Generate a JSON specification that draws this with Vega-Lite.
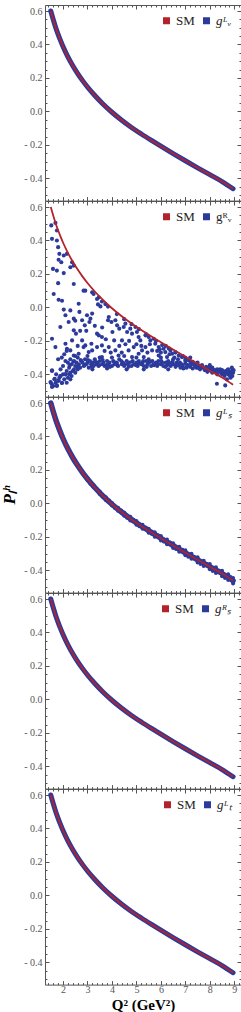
{
"$schema": "https://vega.github.io/schema/vega-lite/v6.json",
"padding": 0,
"spacing": 0,
"bounds": "flush",
"background": "white",
"datasets": {
"sm": [{"q2":1.5,"p":0.600},{"q2":1.6,"p":0.549},{"q2":1.7,"p":0.502},{"q2":1.8,"p":0.461},{"q2":1.9,"p":0.423},{"q2":2.0,"p":0.388},{"q2":2.2,"p":0.326},{"q2":2.4,"p":0.273},{"q2":2.6,"p":0.226},{"q2":2.8,"p":0.184},{"q2":3.0,"p":0.146},{"q2":3.3,"p":0.095},{"q2":3.6,"p":0.049},{"q2":4.0,"p":-0.005},{"q2":4.4,"p":-0.053},{"q2":4.8,"p":-0.096},{"q2":5.2,"p":-0.135},{"q2":5.6,"p":-0.172},{"q2":6.0,"p":-0.208},{"q2":6.5,"p":-0.252},{"q2":7.0,"p":-0.295},{"q2":7.5,"p":-0.337},{"q2":8.0,"p":-0.378},{"q2":8.5,"p":-0.419},{"q2":8.95,"p":-0.462}],
"p2": [{"q2":1.52,"p":0.49},{"q2":1.69,"p":0.505},{"q2":1.75,"p":0.46},{"q2":1.55,"p":0.41},{"q2":1.75,"p":0.40},{"q2":1.80,"p":0.36},{"q2":1.85,"p":0.32},{"q2":1.82,"p":0.285},{"q2":1.93,"p":0.27},{"q2":1.59,"p":0.23},{"q2":1.75,"p":0.22},{"q2":2.03,"p":0.205},{"q2":1.80,"p":0.145},{"q2":1.62,"p":0.08},{"q2":1.82,"p":0.046},{"q2":1.96,"p":0.04},{"q2":2.03,"p":-0.013},{"q2":2.10,"p":-0.047},{"q2":1.89,"p":-0.117},{"q2":1.55,"p":-0.187},{"q2":1.69,"p":-0.237},{"q2":1.55,"p":-0.376},{"q2":1.66,"p":-0.426},{"q2":1.49,"p":-0.446},{"q2":1.75,"p":-0.466},{"q2":1.55,"p":-0.476},{"q2":1.82,"p":-0.436},{"q2":1.96,"p":-0.452},{"q2":1.89,"p":-0.41},{"q2":2.10,"p":-0.40},
{"q2":2.03,"p":0.31},{"q2":2.16,"p":0.32},{"q2":2.30,"p":0.24},{"q2":2.44,"p":0.25},{"q2":2.37,"p":0.27},{"q2":2.44,"p":0.14},{"q2":2.91,"p":0.10},{"q2":2.84,"p":0.10},{"q2":3.19,"p":0.09},{"q2":3.25,"p":0.08},{"q2":3.46,"p":0.06},{"q2":3.39,"p":0.05},{"q2":3.53,"p":0.006},{"q2":3.43,"p":0.018},{"q2":3.59,"p":0.035},{"q2":3.73,"p":0.02},{"q2":3.84,"p":0.005},
{"q2":2.30,"p":-0.018},{"q2":2.44,"p":-0.067},{"q2":2.23,"p":-0.087},{"q2":2.64,"p":0.022},{"q2":2.67,"p":-0.027},{"q2":2.78,"p":-0.077},{"q2":2.98,"p":-0.047},{"q2":3.12,"p":-0.067},{"q2":3.19,"p":-0.037},{"q2":3.08,"p":-0.087},{"q2":2.89,"p":-0.107},{"q2":2.44,"p":-0.137},{"q2":2.53,"p":-0.157},{"q2":2.37,"p":-0.197},{"q2":2.10,"p":-0.217},{"q2":2.16,"p":-0.247},{"q2":2.78,"p":-0.197},{"q2":2.91,"p":-0.227},{"q2":3.16,"p":-0.217},{"q2":3.39,"p":-0.157},{"q2":3.46,"p":-0.167},{"q2":3.59,"p":-0.177},{"q2":3.84,"p":-0.077},{"q2":3.87,"p":-0.057},{"q2":3.98,"p":-0.087},{"q2":4.14,"p":-0.077},{"q2":4.21,"p":-0.107},{"q2":4.30,"p":-0.127},{"q2":4.02,"p":-0.147},{"q2":4.09,"p":-0.197},{"q2":3.59,"p":-0.227},{"q2":3.87,"p":-0.237},{"q2":4.14,"p":-0.257},{"q2":4.41,"p":-0.197},{"q2":4.48,"p":-0.117},{"q2":4.55,"p":-0.097},{"q2":4.62,"p":-0.147},{"q2":4.75,"p":-0.127},{"q2":4.82,"p":-0.157},{"q2":4.96,"p":-0.117},{"q2":5.02,"p":-0.147},{"q2":5.09,"p":-0.177},{"q2":5.16,"p":-0.197},{"q2":5.37,"p":-0.167},{"q2":5.50,"p":-0.177},{"q2":5.57,"p":-0.197},{"q2":5.71,"p":-0.187},{"q2":5.77,"p":-0.217},{"q2":5.91,"p":-0.237},{"q2":6.05,"p":-0.225},{"q2":6.11,"p":-0.247},{"q2":6.18,"p":-0.267},{"q2":6.32,"p":-0.245},{"q2":6.39,"p":-0.257},{"q2":6.46,"p":-0.277},{"q2":6.59,"p":-0.267},{"q2":6.73,"p":-0.287},{"q2":6.86,"p":-0.297},{"q2":7.00,"p":-0.313},{"q2":7.14,"p":-0.317},{"q2":5.23,"p":-0.257},{"q2":5.37,"p":-0.237},{"q2":5.64,"p":-0.257},{"q2":4.89,"p":-0.237},{"q2":4.68,"p":-0.257},{"q2":5.09,"p":-0.277},{"q2":5.91,"p":-0.287},{"q2":6.25,"p":-0.297},{"q2":5.30,"p":-0.297},{"q2":4.82,"p":-0.297},{"q2":4.27,"p":-0.287},{"q2":3.59,"p":-0.297},{"q2":3.05,"p":-0.267},{"q2":2.64,"p":-0.277},{"q2":2.44,"p":-0.287},{"q2":2.30,"p":-0.257},{"q2":2.84,"p":-0.237},{"q2":3.19,"p":-0.257},{"q2":3.39,"p":-0.237},
{"q2":4.4,"p":-0.27},{"q2":4.55,"p":-0.22},{"q2":4.7,"p":-0.20},{"q2":5.0,"p":-0.22},{"q2":5.2,"p":-0.23},{"q2":5.45,"p":-0.27},{"q2":5.55,"p":-0.22},{"q2":5.85,"p":-0.26},{"q2":6.0,"p":-0.27},{"q2":6.35,"p":-0.28},{"q2":6.55,"p":-0.30},{"q2":6.7,"p":-0.31},{"q2":7.2,"p":-0.30},{"q2":5.95,"p":-0.25},{"q2":3.7,"p":-0.26},{"q2":3.95,"p":-0.27},{"q2":4.3,"p":-0.23},{"q2":2.95,"p":-0.14},{"q2":3.3,"p":-0.11},{"q2":3.6,"p":-0.12},{"q2":3.75,"p":-0.19},{"q2":2.6,"p":-0.23},{"q2":2.5,"p":-0.08},{"q2":2.7,"p":-0.14},
{"q2":4.2,"p":-0.04},{"q2":4.5,"p":-0.07},{"q2":4.8,"p":-0.10},{"q2":5.1,"p":-0.13},{"q2":5.4,"p":-0.16},{"q2":5.8,"p":-0.20},{"q2":6.2,"p":-0.23},{"q2":6.6,"p":-0.27},{"q2":7.0,"p":-0.30},{"q2":7.3,"p":-0.325},{"q2":7.6,"p":-0.35},{"q2":6.9,"p":-0.29},{"q2":7.4,"p":-0.335},
{"q2":2.2,"p":-0.33},{"q2":2.25,"p":-0.36},{"q2":2.3,"p":-0.31},{"q2":2.35,"p":-0.34},{"q2":2.4,"p":-0.38},{"q2":2.45,"p":-0.32},{"q2":2.5,"p":-0.35},{"q2":2.55,"p":-0.33},{"q2":2.6,"p":-0.30},{"q2":2.65,"p":-0.34},{"q2":2.7,"p":-0.36},{"q2":2.75,"p":-0.32},{"q2":2.8,"p":-0.33},{"q2":2.85,"p":-0.35},{"q2":2.9,"p":-0.31},{"q2":2.95,"p":-0.34},{"q2":3.0,"p":-0.33},{"q2":3.05,"p":-0.36},{"q2":3.1,"p":-0.32},{"q2":3.15,"p":-0.34},{"q2":3.2,"p":-0.33},{"q2":3.25,"p":-0.35},{"q2":3.3,"p":-0.31},{"q2":3.35,"p":-0.34},{"q2":3.4,"p":-0.33},{"q2":3.45,"p":-0.35},{"q2":3.5,"p":-0.32},{"q2":3.6,"p":-0.34},{"q2":3.65,"p":-0.33},{"q2":3.7,"p":-0.35},{"q2":3.8,"p":-0.32},{"q2":3.85,"p":-0.34},{"q2":3.9,"p":-0.33},{"q2":4.0,"p":-0.35},{"q2":4.05,"p":-0.32},{"q2":4.1,"p":-0.34},{"q2":4.2,"p":-0.33},{"q2":4.25,"p":-0.35},{"q2":4.3,"p":-0.31},{"q2":4.4,"p":-0.34},{"q2":4.45,"p":-0.33},{"q2":4.5,"p":-0.35},{"q2":4.6,"p":-0.32},{"q2":4.65,"p":-0.34},{"q2":4.7,"p":-0.33},{"q2":4.8,"p":-0.35},{"q2":4.85,"p":-0.32},{"q2":4.9,"p":-0.34},{"q2":5.0,"p":-0.33},{"q2":5.05,"p":-0.35},{"q2":5.1,"p":-0.32},{"q2":5.2,"p":-0.34},{"q2":5.25,"p":-0.33},{"q2":5.3,"p":-0.35},{"q2":5.4,"p":-0.32},{"q2":5.45,"p":-0.34},{"q2":5.5,"p":-0.33},{"q2":5.6,"p":-0.35},{"q2":5.65,"p":-0.32},{"q2":5.7,"p":-0.34},{"q2":5.8,"p":-0.33},{"q2":5.85,"p":-0.35},{"q2":5.9,"p":-0.32},{"q2":6.0,"p":-0.34},{"q2":6.05,"p":-0.33},{"q2":6.1,"p":-0.35},{"q2":6.2,"p":-0.33},{"q2":6.25,"p":-0.345},{"q2":6.3,"p":-0.32},{"q2":6.4,"p":-0.35},{"q2":6.45,"p":-0.33},{"q2":6.5,"p":-0.34},{"q2":6.6,"p":-0.355},{"q2":6.65,"p":-0.33},{"q2":6.7,"p":-0.345},{"q2":6.8,"p":-0.36},{"q2":6.85,"p":-0.34},{"q2":6.9,"p":-0.35},{"q2":7.0,"p":-0.335},{"q2":7.05,"p":-0.36},{"q2":7.1,"p":-0.345},{"q2":7.2,"p":-0.355},{"q2":7.25,"p":-0.34},{"q2":7.3,"p":-0.365},{"q2":7.4,"p":-0.35},{"q2":7.45,"p":-0.36},{"q2":7.5,"p":-0.345},{"q2":7.6,"p":-0.37},{"q2":7.65,"p":-0.355},{"q2":7.7,"p":-0.36},{"q2":7.8,"p":-0.375},{"q2":7.85,"p":-0.355},{"q2":7.9,"p":-0.365},{"q2":8.0,"p":-0.37},{"q2":8.05,"p":-0.38},{"q2":8.1,"p":-0.36},{"q2":8.2,"p":-0.375},{"q2":8.25,"p":-0.385},{"q2":8.3,"p":-0.37},{"q2":8.4,"p":-0.38},{"q2":8.45,"p":-0.39},{"q2":8.5,"p":-0.375},{"q2":8.55,"p":-0.385},{"q2":8.6,"p":-0.395},{"q2":8.65,"p":-0.38},{"q2":8.7,"p":-0.39},{"q2":8.75,"p":-0.40},{"q2":8.8,"p":-0.385},{"q2":8.85,"p":-0.395},{"q2":8.9,"p":-0.38},{"q2":8.95,"p":-0.39},{"q2":8.92,"p":-0.41},{"q2":8.85,"p":-0.42},{"q2":8.7,"p":-0.43},{"q2":8.6,"p":-0.41},{"q2":8.5,"p":-0.40},{"q2":8.75,"p":-0.37},{"q2":8.9,"p":-0.36},{"q2":8.3,"p":-0.40},{"q2":8.1,"p":-0.39},{"q2":7.9,"p":-0.385},{"q2":8.29,"p":-0.456},{"q2":8.63,"p":-0.466},
{"q2":2.28,"p":-0.345},{"q2":2.42,"p":-0.325},{"q2":2.58,"p":-0.355},{"q2":2.72,"p":-0.315},{"q2":2.88,"p":-0.345},{"q2":3.02,"p":-0.315},{"q2":3.18,"p":-0.355},{"q2":3.32,"p":-0.325},{"q2":3.48,"p":-0.345},{"q2":3.62,"p":-0.315},{"q2":3.78,"p":-0.345},{"q2":3.92,"p":-0.355},{"q2":4.08,"p":-0.325},{"q2":4.22,"p":-0.345},{"q2":4.38,"p":-0.32},{"q2":4.52,"p":-0.34},{"q2":4.68,"p":-0.355},{"q2":4.82,"p":-0.325},{"q2":4.98,"p":-0.345},{"q2":5.12,"p":-0.335},{"q2":5.28,"p":-0.32},{"q2":5.42,"p":-0.355},{"q2":5.58,"p":-0.325},{"q2":5.72,"p":-0.345},{"q2":5.88,"p":-0.34},{"q2":6.02,"p":-0.32},{"q2":6.18,"p":-0.355},{"q2":6.32,"p":-0.335},{"q2":6.48,"p":-0.325},{"q2":6.62,"p":-0.34},{"q2":6.78,"p":-0.33},{"q2":6.92,"p":-0.365},{"q2":7.08,"p":-0.35},{"q2":7.22,"p":-0.33},{"q2":7.38,"p":-0.345},{"q2":7.52,"p":-0.36},{"q2":7.68,"p":-0.345},{"q2":7.82,"p":-0.365},{"q2":7.98,"p":-0.36},{"q2":8.12,"p":-0.37},{"q2":8.28,"p":-0.39},{"q2":8.42,"p":-0.37},{"q2":8.58,"p":-0.385},{"q2":8.72,"p":-0.375},{"q2":8.88,"p":-0.405},{"q2":8.97,"p":-0.375},{"q2":8.82,"p":-0.41},{"q2":8.68,"p":-0.395},
{"q2":2.5,"p":-0.29},{"q2":3.0,"p":-0.29},{"q2":3.5,"p":-0.30},{"q2":4.0,"p":-0.30},{"q2":4.5,"p":-0.29},{"q2":5.0,"p":-0.30},{"q2":5.5,"p":-0.31},{"q2":6.0,"p":-0.30},{"q2":6.5,"p":-0.31},{"q2":7.0,"p":-0.32},{"q2":7.5,"p":-0.33},{"q2":8.0,"p":-0.345},
{"q2":2.3,"p":-0.39},{"q2":2.6,"p":-0.37},{"q2":3.2,"p":-0.37},{"q2":3.8,"p":-0.365},{"q2":4.6,"p":-0.37},{"q2":5.3,"p":-0.37},{"q2":6.3,"p":-0.37},
{"q2":1.5,"p":-0.45},{"q2":1.55,"p":-0.38},{"q2":1.6,"p":-0.47},{"q2":1.65,"p":-0.43},{"q2":1.7,"p":-0.45},{"q2":1.75,"p":-0.47},{"q2":1.8,"p":-0.44},{"q2":1.85,"p":-0.42},{"q2":1.9,"p":-0.41},{"q2":1.95,"p":-0.45},{"q2":2.0,"p":-0.40},{"q2":2.05,"p":-0.43},{"q2":2.1,"p":-0.40},{"q2":2.15,"p":-0.38},{"q2":2.2,"p":-0.42},{"q2":2.35,"p":-0.41},{"q2":2.5,"p":-0.39},{"q2":1.55,"p":-0.46},{"q2":1.72,"p":-0.40},{"q2":1.9,"p":-0.37},{"q2":2.0,"p":-0.35},{"q2":2.1,"p":-0.32},{"q2":1.8,"p":-0.31},{"q2":1.95,"p":-0.30},{"q2":2.05,"p":-0.28},{"q2":2.15,"p":-0.26},{"q2":2.25,"p":-0.40},{"q2":2.45,"p":-0.37},{"q2":2.3,"p":-0.43},{"q2":2.15,"p":-0.45}],
"p3": [{"q2":3.0,"p":0.152},{"q2":3.0,"p":0.140},{"q2":3.12,"p":0.118},{"q2":3.25,"p":0.108},{"q2":3.25,"p":0.096},{"q2":3.38,"p":0.085},{"q2":3.5,"p":0.071},{"q2":3.5,"p":0.057},{"q2":3.62,"p":0.040},{"q2":3.75,"p":0.037},{"q2":3.75,"p":0.021},{"q2":3.88,"p":0.018},{"q2":4.0,"p":0.003},{"q2":4.0,"p":-0.013},{"q2":4.12,"p":-0.028},{"q2":4.25,"p":-0.026},{"q2":4.25,"p":-0.044},{"q2":4.38,"p":-0.042},{"q2":4.5,"p":-0.054},{"q2":4.5,"p":-0.074},{"q2":4.62,"p":-0.085},{"q2":4.75,"p":-0.080},{"q2":4.75,"p":-0.102},{"q2":4.88,"p":-0.097},{"q2":5.0,"p":-0.105},{"q2":5.0,"p":-0.127},{"q2":5.12,"p":-0.136},{"q2":5.25,"p":-0.128},{"q2":5.25,"p":-0.152},{"q2":5.38,"p":-0.144},{"q2":5.5,"p":-0.151},{"q2":5.5,"p":-0.175},{"q2":5.62,"p":-0.182},{"q2":5.75,"p":-0.173},{"q2":5.75,"p":-0.199},{"q2":5.88,"p":-0.190},{"q2":6.0,"p":-0.195},{"q2":6.0,"p":-0.221},{"q2":6.12,"p":-0.228},{"q2":6.25,"p":-0.216},{"q2":6.25,"p":-0.244},{"q2":6.38,"p":-0.234},{"q2":6.5,"p":-0.238},{"q2":6.5,"p":-0.266},{"q2":6.62,"p":-0.273},{"q2":6.75,"p":-0.259},{"q2":6.75,"p":-0.289},{"q2":6.88,"p":-0.277},{"q2":7.0,"p":-0.280},{"q2":7.0,"p":-0.310},{"q2":7.12,"p":-0.319},{"q2":7.25,"p":-0.301},{"q2":7.25,"p":-0.331},{"q2":7.38,"p":-0.322},{"q2":7.5,"p":-0.321},{"q2":7.5,"p":-0.353},{"q2":7.62,"p":-0.362},{"q2":7.75,"p":-0.342},{"q2":7.75,"p":-0.374},{"q2":7.88,"p":-0.362},{"q2":8.0,"p":-0.362},{"q2":8.0,"p":-0.394},{"q2":8.12,"p":-0.404},{"q2":8.25,"p":-0.382},{"q2":8.25,"p":-0.416},{"q2":8.38,"p":-0.403},{"q2":8.5,"p":-0.402},{"q2":8.5,"p":-0.436},{"q2":8.62,"p":-0.446},{"q2":8.75,"p":-0.423},{"q2":8.75,"p":-0.457},{"q2":8.85,"p":-0.440},{"q2":8.95,"p":-0.445},{"q2":8.95,"p":-0.479}]
},
"vconcat": [
{"width":196,"height":195.6,
 "layer":[
  {"data":{"name":"sm"},"mark":{"type":"line","strokeWidth":5,"interpolate":"monotone","strokeCap":"round"},
   "encoding":{
    "x":{"field":"q2","type":"quantitative","scale":{"domain":[1.264,9.274],"nice":false,"zero":false},"axis":{"orient":"bottom","values":[1.4,1.6,1.8,2,2.2,2.4,2.6,2.8,3,3.2,3.4,3.6,3.8,4,4.2,4.4,4.6,4.8,5,5.2,5.4,5.6,5.8,6,6.2,6.4,6.6,6.8,7,7.2,7.4,7.6,7.8,8,8.2,8.4,8.6,8.8,9,9.2],"labels":false,"title":null,"tickSize":{"condition":{"test":"abs(datum.value-round(datum.value))<0.001","value":-4},"value":-2}}},
    "y":{"field":"p","type":"quantitative","scale":{"domain":[-0.533,0.636],"nice":false,"zero":false},"axis":{"orient":"left","values":[-0.5,-0.45,-0.4,-0.35,-0.3,-0.25,-0.2,-0.15,-0.1,-0.05,0,0.05,0.1,0.15,0.2,0.25,0.3,0.35,0.4,0.45,0.5,0.55,0.6],"labelExpr":"abs(datum.value*5-round(datum.value*5))<0.001 ? (datum.value < -0.001 ? '- ' + format(-datum.value, '.1f') : format(abs(datum.value), '.1f')) : ''","labelPadding":7,"title":null,"tickSize":{"condition":{"test":"abs(datum.value*5-round(datum.value*5))<0.001","value":-4},"value":-2}}},
    "color":{"datum":"g\u1d38\u1d65","type":"nominal","scale":{"domain":["SM","g\u1d38\u1d65"],"range":["#b3232b","#2c3a9c"]},
     "legend":{"title":null,"orient":"top-right","direction":"horizontal","offset":9,"padding":0,"symbolType":"square","symbolSize":30,"labelFont":"Liberation Serif","labelFontSize":13,"labelColor":"#222","labelOffset":3,"columnPadding":5,
      "encode":{"symbols":{"update":{"fill":{"signal":"datum.value === 'SM' ? '#b3232b' : '#2c3a9c'"},"stroke":{"value":"transparent"},"shape":{"value":"square"},"opacity":{"value":1}}},"labels":{"update":{"fontStyle":{"signal":"datum.value === 'SM' ? 'normal' : 'italic'"}}}}}}
   }},
  {"data":{"name":"sm"},"mark":{"type":"line","strokeWidth":1.8,"interpolate":"monotone"},
   "encoding":{
    "x":{"field":"q2","type":"quantitative","axis":{"orient":"top","values":[1.4,1.6,1.8,2,2.2,2.4,2.6,2.8,3,3.2,3.4,3.6,3.8,4,4.2,4.4,4.6,4.8,5,5.2,5.4,5.6,5.8,6,6.2,6.4,6.6,6.8,7,7.2,7.4,7.6,7.8,8,8.2,8.4,8.6,8.8,9,9.2],"labels":false,"title":null,"tickSize":{"condition":{"test":"abs(datum.value-round(datum.value))<0.001","value":-4},"value":-2}}},
    "y":{"field":"p","type":"quantitative","axis":{"orient":"right","values":[-0.5,-0.45,-0.4,-0.35,-0.3,-0.25,-0.2,-0.15,-0.1,-0.05,0,0.05,0.1,0.15,0.2,0.25,0.3,0.35,0.4,0.45,0.5,0.55,0.6],"labels":false,"title":null,"tickSize":{"condition":{"test":"abs(datum.value*5-round(datum.value*5))<0.001","value":-4},"value":-2}}},
    "color":{"datum":"SM","type":"nominal"}
   }}
 ],
 "resolve":{"axis":{"x":"independent","y":"independent"}}
},
{"width":196,"height":195.6,
 "layer":[
  {"data":{"name":"p2"},"mark":{"type":"circle","size":17,"opacity":1},
   "encoding":{
    "x":{"field":"q2","type":"quantitative","scale":{"domain":[1.264,9.274],"nice":false,"zero":false},"axis":{"orient":"bottom","values":[1.4,1.6,1.8,2,2.2,2.4,2.6,2.8,3,3.2,3.4,3.6,3.8,4,4.2,4.4,4.6,4.8,5,5.2,5.4,5.6,5.8,6,6.2,6.4,6.6,6.8,7,7.2,7.4,7.6,7.8,8,8.2,8.4,8.6,8.8,9,9.2],"labels":false,"title":null,"tickSize":{"condition":{"test":"abs(datum.value-round(datum.value))<0.001","value":-4},"value":-2}}},
    "y":{"field":"p","type":"quantitative","scale":{"domain":[-0.533,0.636],"nice":false,"zero":false},"axis":{"orient":"left","values":[-0.5,-0.45,-0.4,-0.35,-0.3,-0.25,-0.2,-0.15,-0.1,-0.05,0,0.05,0.1,0.15,0.2,0.25,0.3,0.35,0.4,0.45,0.5,0.55,0.6],"labelExpr":"abs(datum.value*5-round(datum.value*5))<0.001 ? (datum.value < -0.001 ? '- ' + format(-datum.value, '.1f') : format(abs(datum.value), '.1f')) : ''","labelPadding":7,"title":null,"tickSize":{"condition":{"test":"abs(datum.value*5-round(datum.value*5))<0.001","value":-4},"value":-2}}},
    "color":{"datum":"g\u1d3f\u1d65","type":"nominal","scale":{"domain":["SM","g\u1d3f\u1d65"],"range":["#b3232b","#2c3a9c"]},
     "legend":{"title":null,"orient":"top-right","direction":"horizontal","offset":9,"padding":0,"symbolType":"square","symbolSize":30,"labelFont":"Liberation Serif","labelFontSize":13,"labelColor":"#222","labelOffset":3,"columnPadding":5,
      "encode":{"symbols":{"update":{"fill":{"signal":"datum.value === 'SM' ? '#b3232b' : '#2c3a9c'"},"stroke":{"value":"transparent"},"shape":{"value":"square"},"opacity":{"value":1}}},"labels":{"update":{"fontStyle":{"signal":"datum.value === 'SM' ? 'normal' : 'italic'"}}}}}}
   }},
  {"data":{"name":"sm"},"mark":{"type":"line","strokeWidth":1.8,"interpolate":"monotone"},
   "encoding":{
    "x":{"field":"q2","type":"quantitative","axis":{"orient":"top","values":[1.4,1.6,1.8,2,2.2,2.4,2.6,2.8,3,3.2,3.4,3.6,3.8,4,4.2,4.4,4.6,4.8,5,5.2,5.4,5.6,5.8,6,6.2,6.4,6.6,6.8,7,7.2,7.4,7.6,7.8,8,8.2,8.4,8.6,8.8,9,9.2],"labels":false,"title":null,"tickSize":{"condition":{"test":"abs(datum.value-round(datum.value))<0.001","value":-4},"value":-2}}},
    "y":{"field":"p","type":"quantitative","axis":{"orient":"right","values":[-0.5,-0.45,-0.4,-0.35,-0.3,-0.25,-0.2,-0.15,-0.1,-0.05,0,0.05,0.1,0.15,0.2,0.25,0.3,0.35,0.4,0.45,0.5,0.55,0.6],"labels":false,"title":null,"tickSize":{"condition":{"test":"abs(datum.value*5-round(datum.value*5))<0.001","value":-4},"value":-2}}},
    "color":{"datum":"SM","type":"nominal"}
   }}
 ],
 "resolve":{"axis":{"x":"independent","y":"independent"}}
},
{"width":196,"height":195.6,
 "layer":[
  {"data":{"name":"sm"},"mark":{"type":"line","strokeWidth":5.5,"interpolate":"monotone","strokeCap":"round"},
   "encoding":{
    "x":{"field":"q2","type":"quantitative","scale":{"domain":[1.264,9.274],"nice":false,"zero":false},"axis":{"orient":"bottom","values":[1.4,1.6,1.8,2,2.2,2.4,2.6,2.8,3,3.2,3.4,3.6,3.8,4,4.2,4.4,4.6,4.8,5,5.2,5.4,5.6,5.8,6,6.2,6.4,6.6,6.8,7,7.2,7.4,7.6,7.8,8,8.2,8.4,8.6,8.8,9,9.2],"labels":false,"title":null,"tickSize":{"condition":{"test":"abs(datum.value-round(datum.value))<0.001","value":-4},"value":-2}}},
    "y":{"field":"p","type":"quantitative","scale":{"domain":[-0.533,0.636],"nice":false,"zero":false},"axis":{"orient":"left","values":[-0.5,-0.45,-0.4,-0.35,-0.3,-0.25,-0.2,-0.15,-0.1,-0.05,0,0.05,0.1,0.15,0.2,0.25,0.3,0.35,0.4,0.45,0.5,0.55,0.6],"labelExpr":"abs(datum.value*5-round(datum.value*5))<0.001 ? (datum.value < -0.001 ? '- ' + format(-datum.value, '.1f') : format(abs(datum.value), '.1f')) : ''","labelPadding":7,"title":"P\u2097\u02b0","titleFontSize":17,"titleFontWeight":"bold","titleFontStyle":"italic","titleColor":"#000","titlePadding":5,"tickSize":{"condition":{"test":"abs(datum.value*5-round(datum.value*5))<0.001","value":-4},"value":-2}}},
    "color":{"datum":"g\u1d38\u209b","type":"nominal","scale":{"domain":["SM","g\u1d38\u209b"],"range":["#b3232b","#2c3a9c"]},
     "legend":{"title":null,"orient":"top-right","direction":"horizontal","offset":9,"padding":0,"symbolType":"square","symbolSize":30,"labelFont":"Liberation Serif","labelFontSize":13,"labelColor":"#222","labelOffset":3,"columnPadding":5,
      "encode":{"symbols":{"update":{"fill":{"signal":"datum.value === 'SM' ? '#b3232b' : '#2c3a9c'"},"stroke":{"value":"transparent"},"shape":{"value":"square"},"opacity":{"value":1}}},"labels":{"update":{"fontStyle":{"signal":"datum.value === 'SM' ? 'normal' : 'italic'"}}}}}}
   }},
  {"data":{"name":"p3"},"mark":{"type":"circle","size":16,"opacity":1},
   "encoding":{
    "x":{"field":"q2","type":"quantitative","axis":null},
    "y":{"field":"p","type":"quantitative","axis":null},
    "color":{"datum":"g\u1d38\u209b","type":"nominal"}
   }},
  {"data":{"name":"sm"},"mark":{"type":"line","strokeWidth":1.8,"interpolate":"monotone"},
   "encoding":{
    "x":{"field":"q2","type":"quantitative","axis":{"orient":"top","values":[1.4,1.6,1.8,2,2.2,2.4,2.6,2.8,3,3.2,3.4,3.6,3.8,4,4.2,4.4,4.6,4.8,5,5.2,5.4,5.6,5.8,6,6.2,6.4,6.6,6.8,7,7.2,7.4,7.6,7.8,8,8.2,8.4,8.6,8.8,9,9.2],"labels":false,"title":null,"tickSize":{"condition":{"test":"abs(datum.value-round(datum.value))<0.001","value":-4},"value":-2}}},
    "y":{"field":"p","type":"quantitative","axis":{"orient":"right","values":[-0.5,-0.45,-0.4,-0.35,-0.3,-0.25,-0.2,-0.15,-0.1,-0.05,0,0.05,0.1,0.15,0.2,0.25,0.3,0.35,0.4,0.45,0.5,0.55,0.6],"labels":false,"title":null,"tickSize":{"condition":{"test":"abs(datum.value*5-round(datum.value*5))<0.001","value":-4},"value":-2}}},
    "color":{"datum":"SM","type":"nominal"}
   }}
 ],
 "resolve":{"axis":{"x":"independent","y":"independent"}}
},
{"width":196,"height":195.6,
 "layer":[
  {"data":{"name":"sm"},"mark":{"type":"line","strokeWidth":5,"interpolate":"monotone","strokeCap":"round"},
   "encoding":{
    "x":{"field":"q2","type":"quantitative","scale":{"domain":[1.264,9.274],"nice":false,"zero":false},"axis":{"orient":"bottom","values":[1.4,1.6,1.8,2,2.2,2.4,2.6,2.8,3,3.2,3.4,3.6,3.8,4,4.2,4.4,4.6,4.8,5,5.2,5.4,5.6,5.8,6,6.2,6.4,6.6,6.8,7,7.2,7.4,7.6,7.8,8,8.2,8.4,8.6,8.8,9,9.2],"labels":false,"title":null,"tickSize":{"condition":{"test":"abs(datum.value-round(datum.value))<0.001","value":-4},"value":-2}}},
    "y":{"field":"p","type":"quantitative","scale":{"domain":[-0.533,0.636],"nice":false,"zero":false},"axis":{"orient":"left","values":[-0.5,-0.45,-0.4,-0.35,-0.3,-0.25,-0.2,-0.15,-0.1,-0.05,0,0.05,0.1,0.15,0.2,0.25,0.3,0.35,0.4,0.45,0.5,0.55,0.6],"labelExpr":"abs(datum.value*5-round(datum.value*5))<0.001 ? (datum.value < -0.001 ? '- ' + format(-datum.value, '.1f') : format(abs(datum.value), '.1f')) : ''","labelPadding":7,"title":null,"tickSize":{"condition":{"test":"abs(datum.value*5-round(datum.value*5))<0.001","value":-4},"value":-2}}},
    "color":{"datum":"g\u1d3f\u209b","type":"nominal","scale":{"domain":["SM","g\u1d3f\u209b"],"range":["#b3232b","#2c3a9c"]},
     "legend":{"title":null,"orient":"top-right","direction":"horizontal","offset":9,"padding":0,"symbolType":"square","symbolSize":30,"labelFont":"Liberation Serif","labelFontSize":13,"labelColor":"#222","labelOffset":3,"columnPadding":5,
      "encode":{"symbols":{"update":{"fill":{"signal":"datum.value === 'SM' ? '#b3232b' : '#2c3a9c'"},"stroke":{"value":"transparent"},"shape":{"value":"square"},"opacity":{"value":1}}},"labels":{"update":{"fontStyle":{"signal":"datum.value === 'SM' ? 'normal' : 'italic'"}}}}}}
   }},
  {"data":{"name":"sm"},"mark":{"type":"line","strokeWidth":1.8,"interpolate":"monotone"},
   "encoding":{
    "x":{"field":"q2","type":"quantitative","axis":{"orient":"top","values":[1.4,1.6,1.8,2,2.2,2.4,2.6,2.8,3,3.2,3.4,3.6,3.8,4,4.2,4.4,4.6,4.8,5,5.2,5.4,5.6,5.8,6,6.2,6.4,6.6,6.8,7,7.2,7.4,7.6,7.8,8,8.2,8.4,8.6,8.8,9,9.2],"labels":false,"title":null,"tickSize":{"condition":{"test":"abs(datum.value-round(datum.value))<0.001","value":-4},"value":-2}}},
    "y":{"field":"p","type":"quantitative","axis":{"orient":"right","values":[-0.5,-0.45,-0.4,-0.35,-0.3,-0.25,-0.2,-0.15,-0.1,-0.05,0,0.05,0.1,0.15,0.2,0.25,0.3,0.35,0.4,0.45,0.5,0.55,0.6],"labels":false,"title":null,"tickSize":{"condition":{"test":"abs(datum.value*5-round(datum.value*5))<0.001","value":-4},"value":-2}}},
    "color":{"datum":"SM","type":"nominal"}
   }}
 ],
 "resolve":{"axis":{"x":"independent","y":"independent"}}
},
{"width":196,"height":195.6,
 "layer":[
  {"data":{"name":"sm"},"mark":{"type":"line","strokeWidth":5,"interpolate":"monotone","strokeCap":"round"},
   "encoding":{
    "x":{"field":"q2","type":"quantitative","scale":{"domain":[1.264,9.274],"nice":false,"zero":false},"axis":{"orient":"bottom","values":[1.4,1.6,1.8,2,2.2,2.4,2.6,2.8,3,3.2,3.4,3.6,3.8,4,4.2,4.4,4.6,4.8,5,5.2,5.4,5.6,5.8,6,6.2,6.4,6.6,6.8,7,7.2,7.4,7.6,7.8,8,8.2,8.4,8.6,8.8,9,9.2],"labelExpr":"abs(datum.value-round(datum.value))<0.001 ? format(datum.value, 'd') : ''","labelPadding":4,"title":"Q\u00b2 (GeV\u00b2)","titleFontSize":15,"titleFontWeight":"bold","titleColor":"#000","titlePadding":1,"tickSize":{"condition":{"test":"abs(datum.value-round(datum.value))<0.001","value":-4},"value":-2}}},
    "y":{"field":"p","type":"quantitative","scale":{"domain":[-0.533,0.636],"nice":false,"zero":false},"axis":{"orient":"left","values":[-0.5,-0.45,-0.4,-0.35,-0.3,-0.25,-0.2,-0.15,-0.1,-0.05,0,0.05,0.1,0.15,0.2,0.25,0.3,0.35,0.4,0.45,0.5,0.55,0.6],"labelExpr":"abs(datum.value*5-round(datum.value*5))<0.001 ? (datum.value < -0.001 ? '- ' + format(-datum.value, '.1f') : format(abs(datum.value), '.1f')) : ''","labelPadding":7,"title":null,"tickSize":{"condition":{"test":"abs(datum.value*5-round(datum.value*5))<0.001","value":-4},"value":-2}}},
    "color":{"datum":"g\u1d38\u209c","type":"nominal","scale":{"domain":["SM","g\u1d38\u209c"],"range":["#b3232b","#2c3a9c"]},
     "legend":{"title":null,"orient":"top-right","direction":"horizontal","offset":9,"padding":0,"symbolType":"square","symbolSize":30,"labelFont":"Liberation Serif","labelFontSize":13,"labelColor":"#222","labelOffset":3,"columnPadding":5,
      "encode":{"symbols":{"update":{"fill":{"signal":"datum.value === 'SM' ? '#b3232b' : '#2c3a9c'"},"stroke":{"value":"transparent"},"shape":{"value":"square"},"opacity":{"value":1}}},"labels":{"update":{"fontStyle":{"signal":"datum.value === 'SM' ? 'normal' : 'italic'"}}}}}}
   }},
  {"data":{"name":"sm"},"mark":{"type":"line","strokeWidth":1.8,"interpolate":"monotone"},
   "encoding":{
    "x":{"field":"q2","type":"quantitative","axis":{"orient":"top","values":[1.4,1.6,1.8,2,2.2,2.4,2.6,2.8,3,3.2,3.4,3.6,3.8,4,4.2,4.4,4.6,4.8,5,5.2,5.4,5.6,5.8,6,6.2,6.4,6.6,6.8,7,7.2,7.4,7.6,7.8,8,8.2,8.4,8.6,8.8,9,9.2],"labels":false,"title":null,"tickSize":{"condition":{"test":"abs(datum.value-round(datum.value))<0.001","value":-4},"value":-2}}},
    "y":{"field":"p","type":"quantitative","axis":{"orient":"right","values":[-0.5,-0.45,-0.4,-0.35,-0.3,-0.25,-0.2,-0.15,-0.1,-0.05,0,0.05,0.1,0.15,0.2,0.25,0.3,0.35,0.4,0.45,0.5,0.55,0.6],"labels":false,"title":null,"tickSize":{"condition":{"test":"abs(datum.value*5-round(datum.value*5))<0.001","value":-4},"value":-2}}},
    "color":{"datum":"SM","type":"nominal"}
   }}
 ],
 "resolve":{"axis":{"x":"independent","y":"independent"}}
}
],
"resolve":{"scale":{"color":"independent"},"legend":{"color":"independent"}},
"config":{
 "view":{"stroke":"#555","strokeWidth":1},
 "axis":{"domain":false,"grid":false,"labelFont":"Liberation Serif","labelFontSize":10,"labelColor":"#555","tickColor":"#555","tickWidth":1,"labelOverlap":false,"labelFlush":false,"titleFont":"Liberation Serif","titleColor":"#000"}
}
}
